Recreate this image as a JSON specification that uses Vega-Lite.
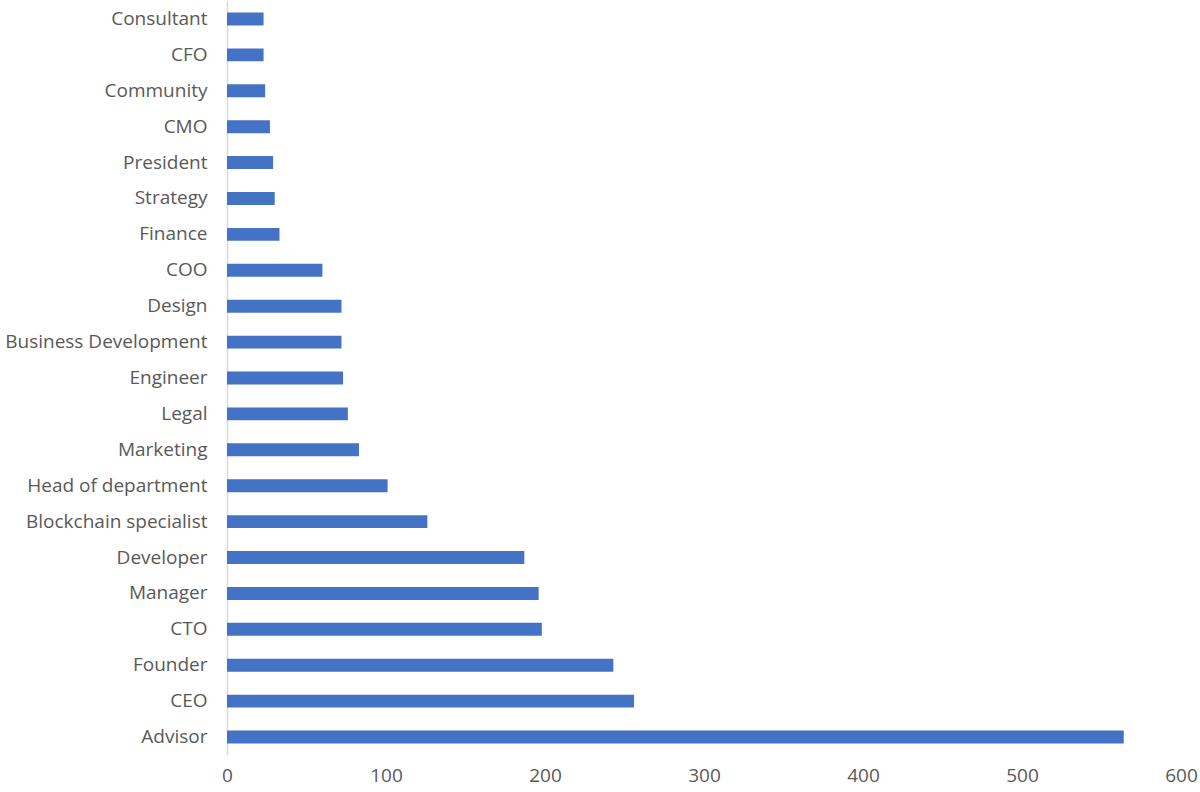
{
  "$schema": "https://vega.github.io/schema/vega-lite/v6.json",
  "width": 954,
  "height": 754,
  "autosize": "none",
  "padding": {"left": 227, "top": 1, "right": 19, "bottom": 37},
  "background": "white",
  "config": {"view": {"stroke": null}},
  "data": {
    "values": [
      {"role": "Consultant", "count": 23},
      {"role": "CFO", "count": 23},
      {"role": "Community", "count": 24},
      {"role": "CMO", "count": 27},
      {"role": "President", "count": 29},
      {"role": "Strategy", "count": 30},
      {"role": "Finance", "count": 33},
      {"role": "COO", "count": 60},
      {"role": "Design", "count": 72},
      {"role": "Business Development", "count": 72},
      {"role": "Engineer", "count": 73},
      {"role": "Legal", "count": 76},
      {"role": "Marketing", "count": 83},
      {"role": "Head of department", "count": 101},
      {"role": "Blockchain specialist", "count": 126},
      {"role": "Developer", "count": 187},
      {"role": "Manager", "count": 196},
      {"role": "CTO", "count": 198},
      {"role": "Founder", "count": 243},
      {"role": "CEO", "count": 256},
      {"role": "Advisor", "count": 564}
    ]
  },
  "mark": {"type": "bar", "color": "#4472C4"},
  "encoding": {
    "y": {
      "field": "role",
      "type": "nominal",
      "sort": null,
      "title": null,
      "scale": {"paddingInner": 0.64, "paddingOuter": 0.32},
      "axis": {
        "ticks": false,
        "domainColor": "#d9d9d9",
        "domainWidth": 1.5,
        "labelPadding": 20,
        "labelFont": "Open Sans",
        "labelFontSize": 19,
        "labelColor": "#595959",
        "labelLimit": 300
      }
    },
    "x": {
      "field": "count",
      "type": "quantitative",
      "title": null,
      "scale": {"domain": [0, 600], "nice": false},
      "axis": {
        "values": [0, 100, 200, 300, 400, 500, 600],
        "grid": false,
        "domain": false,
        "ticks": false,
        "labelPadding": 11,
        "labelFont": "Open Sans",
        "labelFontSize": 19,
        "labelColor": "#595959",
        "labelFlush": false
      }
    }
  }
}
